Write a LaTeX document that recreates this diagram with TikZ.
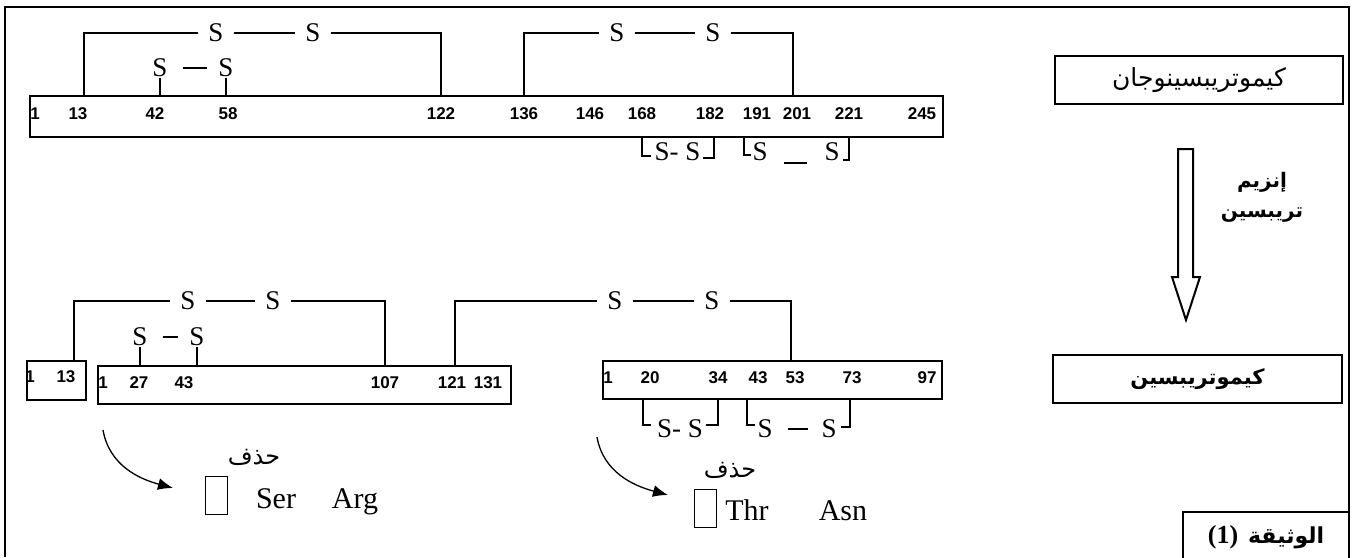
\documentclass[tikz,border=0pt]{standalone}
\usepackage{fontspec}
\setmainfont{Liberation Serif}
\newfontfamily\arialfont{Liberation Sans}
\newfontfamily\arabicfont[Script=Arabic]{DejaVu Sans}
\TeXXeTstate=1
\usetikzlibrary{arrows.meta}
\tikzset{>={Latex[length=15pt,width=12pt]}}
\newcommand*{\numfont}{\arialfont\bfseries\fontsize{17}{17}\selectfont}
\newcommand*{\sfnt}{\fontsize{27}{27}\selectfont}

\begin{document}
\begin{tikzpicture}[x=1pt, y=-1pt, line width=2pt,
    pept/.style={draw, inner sep=0pt},
    num/.style={font=\numfont, inner sep=0pt},
    sul/.style={font=\sfnt, inner xsep=9pt, inner ysep=0pt},
    sbr/.style={font=\sfnt, inner sep=0pt},
    sdash/.style={shorten <=5pt, shorten >=1pt},
    tofu/.style={draw, line width=0.9pt, minimum width=22pt, minimum height=38pt, inner sep=0pt},
    aa/.style={font=\fontsize{30}{30}\selectfont, anchor=base, inner sep=0pt},
    cut/.style={->, line width=1.3pt},
    ar/.style={font=\arabicfont\fontsize{24}{30}\selectfont},
    arb/.style={font=\arabicfont\bfseries\fontsize{21}{30}\selectfont}]
    \useasboundingbox (0,0) rectangle (1355,557);
    \draw (5,557) |- (1349,7) -- (1349,557);

    % chymotrypsinogen
    \node[pept, minimum width=913pt, minimum height=41pt] (gen) at (486.5,116.5) {};
    \foreach \n/\x in {1/35, 13/78, 42/155, 58/228, 122/441, 136/524, 146/590,
        168/642, 182/710, 191/757, 201/797, 221/849, 245/922}
        \node[num] (g\n) at (\x,114) {\n};
    \node[sul] (gs1) at (216,33) {S};
    \node[sul] (gs2) at (313,33) {S};
    \draw ([xshift=6pt]g13.north |- gen.north) |- (gs1.west);
    \draw (gs1) -- (gs2);
    \draw (gs2.east) -| (g122 |- gen.north);
    \node[sul] (gs3) at (160,67.5) {S};
    \node[sul] (gs4) at (226,67.5) {S};
    \draw[sdash] (gs3) -- (gs4);
    \foreach \s in {gs3,gs4} \draw (\s.south) -- (\s |- gen.north);
    \node[sul] (gs5) at (617,33) {S};
    \node[sul] (gs6) at (713,33) {S};
    \draw (g136 |- gen.north) |- (gs5.west);
    \draw (gs5) -- (gs6);
    \draw (gs6.east) -| ([xshift=-4pt]g201.north |- gen.north);
    \node[sbr] (gb1) at (677.5,152) {S- S};
    \draw (g168 |- gen.south) |- ([xshift=-3pt,yshift=-4pt]gb1.west);
    \draw ([xshift=4pt]g182.south |- gen.south) |- ([xshift=2pt,yshift=-6pt]gb1.east);
    \node[sbr] (gb2) at (760,152) {S};
    \node[sbr] (gb3) at (832,152) {S};
    \draw[shorten <=15pt, shorten >=17pt] ([yshift=-11pt]gb2.east) -- ([yshift=-11pt]gb3.west);
    \draw ([xshift=-8pt]gb2.west |- gen.south) |- ([xshift=-1pt,yshift=-3pt]gb2.west);
    \draw (g221 |- gen.south) |- ([xshift=2pt,yshift=-8pt]gb3.east);

    % chymotrypsin chains
    \node[pept, minimum width=59pt, minimum height=39pt] (chA) at (56.5,380.5) {};
    \node[pept, minimum width=413pt, minimum height=38pt] (chB) at (304.5,385) {};
    \node[pept, minimum width=339pt, minimum height=38pt] (chC) at (772.5,380) {};
    \foreach \n/\x in {1/30, 13/66}
        \node[num] (a\n) at (\x,377) {\n};
    \foreach \n/\x in {1/103, 27/139, 43/184, 107/385, 121/452, 131/488}
        \node[num] (b\n) at (\x,383) {\n};
    \foreach \n/\x in {1/608, 20/650, 34/718, 43/758, 53/795, 73/852, 97/927}
        \node[num] (c\n) at (\x,378) {\n};
    \node[sul] (bs1) at (188,301) {S};
    \node[sul] (bs2) at (273,301) {S};
    \draw ([xshift=8pt]a13.north |- chA.north) |- (bs1.west);
    \draw (bs1) -- (bs2);
    \draw (bs2.east) -| (b107 |- chB.north);
    \node[sul] (bs3) at (140,337) {S};
    \node[sul] (bs4) at (197,337) {S};
    \draw[sdash] (bs3) -- (bs4);
    \foreach \s in {bs3,bs4} \draw (\s.south) -- (\s |- chB.north);
    \node[sul] (bs5) at (615,301) {S};
    \node[sul] (bs6) at (712,301) {S};
    \draw ([xshift=3pt]b121.north |- chB.north) |- (bs5.west);
    \draw (bs5) -- (bs6);
    \draw (bs6.east) -| ([xshift=-4pt]c53.north |- chC.north);
    \node[sbr] (cb1) at (680,428.5) {S- S};
    \draw ([xshift=-7pt]c20.south |- chC.south) |- ([xshift=-5pt,yshift=3.5pt]cb1.west);
    \draw (c34 |- chC.south) |- ([xshift=2pt,yshift=3.5pt]cb1.east);
    \node[sbr] (cb2) at (765,428.5) {S};
    \node[sbr] (cb3) at (829,428.5) {S};
    \draw[shorten <=14pt, shorten >=13pt] (cb2) -- (cb3);
    \draw ([xshift=-11pt]c43.south |- chC.south) |- ([xshift=-2pt,yshift=3.5pt]cb2.west);
    \draw ([xshift=-2pt]c73.south |- chC.south) |- ([xshift=3pt,yshift=1.5pt]cb3.east);

    % removed dipeptides
    \node[tofu] (tofuA) at (216,495) {};
    \node[aa] (serA) at (276,508) {Ser};
    \node[aa] (argA) at (355,508) {Arg};
    \node[ar] (delA) at (254,457) {\beginR حذف\endR};
    \coordinate (cutA) at (103,430);
    \coordinate (tipA) at (173,488);
    \draw[cut] (cutA) to[out=-80, in=165] (tipA);
    \node[tofu] (tofuB) at (705,508) {};
    \node[aa] (thrB) at (747,520) {Thr};
    \node[aa] (asnB) at (843,520) {Asn};
    \node[ar] (delB) at (730,470) {\beginR حذف\endR};
    \coordinate (cutB) at (597,437);
    \coordinate (tipB) at (668,495);
    \draw[cut] (cutB) to[out=-80, in=165] (tipB);

    % labels
    \node[draw, ar, font=\arabicfont\fontsize{25}{30}\selectfont, minimum width=288pt, minimum height=48pt] (zymo) at (1199,80) {\beginR كيموتريبسينوجان\endR};
    \node[arb, font=\arabicfont\bfseries\fontsize{20}{30}\selectfont, align=center] (enz) at (1262,197) {\beginR إنزيم\endR\\\beginR تريبسين\endR};
    \draw (1178,149) -- (1178,277) -- (1172,277) -- (1186,320) -- (1200,277) -- (1193,277) -- (1193,149) -- cycle;
    \node[draw, arb, minimum width=289pt, minimum height=48pt] (chymo) at (1197.5,379) {\beginR كيموتريبسين\endR};
    \node[draw, minimum width=166pt, minimum height=50pt] (doc) at (1266,537)
        {{\bfseries\fontsize{26}{26}\selectfont (1)}\hspace{10pt}{\arabicfont\bfseries\fontsize{22}{22}\selectfont\beginR الوثيقة\endR}};
\end{tikzpicture}
\end{document}
